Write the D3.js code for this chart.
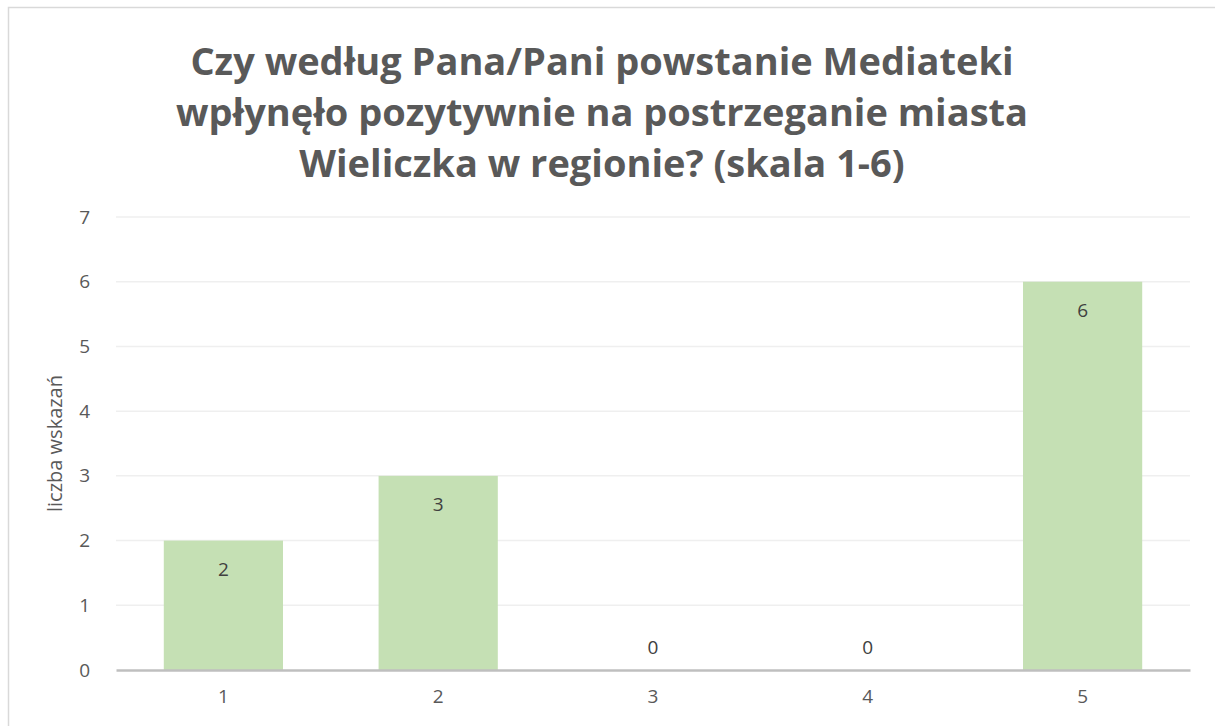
<!DOCTYPE html>
<html>
<head>
<meta charset="utf-8">
<script src="https://cdn.jsdelivr.net/npm/d3@7"></script>
<style>
  body { margin: 0; background: #fff; }
  text { font-family: "Open Sans", "Noto Sans", sans-serif; }
</style>
</head>
<body>
<svg id="chart"></svg>
<script>
const width = 1215;
const height = 726;

// dane z wykresu
const categories = ["1", "2", "3", "4", "5"];
const values = [2, 3, 0, 0, 6];
const yTicks = [0, 1, 2, 3, 4, 5, 6, 7];
const titleLines = [
  "Czy według Pana/Pani powstanie Mediateki",
  "wpłynęło pozytywnie na postrzeganie miasta",
  "Wieliczka w regionie? (skala 1-6)"
];
const yLabel = "liczba wskazań";

const svg = d3.select('#chart')
  .attr('width', width)
  .attr('height', height);

// ramka wykresu
svg.append('rect')
  .attr('x', 8.5)
  .attr('y', 7.5)
  .attr('width', width + 20)
  .attr('height', height + 20)
  .attr('fill', 'white')
  .attr('stroke', '#d9d9d9')
  .attr('stroke-width', 1.5);

const margin = { left: 116, right: 25, top: 217, bottom: 56 };

let x = d3.scaleBand()
  .domain(categories)
  .range([margin.left, width - margin.right])
  .paddingInner(0.445)
  .paddingOuter(0.2225);

let y = d3.scaleLinear()
  .domain([0, 7])
  .range([height - margin.bottom, margin.top]);

// tytuł
svg.append('text')
  .attr('x', 602)
  .attr('y', 75)
  .attr('text-anchor', 'middle')
  .attr('fill', '#595959')
  .attr('font-size', '38px')
  .attr('font-weight', 'bold')
  .selectAll('tspan')
  .data(titleLines).join('tspan')
  .attr('x', 602)
  .attr('dy', (d, i) => i === 0 ? 0 : 51)
  .text(d => d);

// linie siatki
svg.append('g')
  .selectAll('line')
  .data(yTicks.filter(d => d > 0))
  .join('line')
  .attr('x1', margin.left)
  .attr('x2', width - margin.right)
  .attr('y1', d => y(d))
  .attr('y2', d => y(d))
  .attr('stroke', '#efefef')
  .attr('stroke-width', 1.5);

// oś Y
let yAxis = svg.append('g')
  .attr('transform', `translate(${margin.left},0)`)
  .call(d3.axisLeft(y).tickValues(yTicks).tickFormat(d3.format('d')).tickSize(0).tickPadding(26));
yAxis.select('.domain').remove();
yAxis.attr('font-size', 19).attr('font-family', null);
yAxis.selectAll('text')
  .attr('fill', '#595959');

// słupki
svg.selectAll('.bar')
  .data(categories)
  .join('rect')
  .attr('class', 'bar')
  .attr('x', d => x(d))
  .attr('width', x.bandwidth())
  .attr('y', (d, i) => y(values[i]))
  .attr('height', (d, i) => y(0) - y(values[i]))
  .attr('fill', '#c5e0b4');

// oś X
let xAxis = svg.append('g')
  .attr('transform', `translate(0,${y(0)})`)
  .call(d3.axisBottom(x).tickSize(0).tickPadding(20));
xAxis.attr('font-size', 19).attr('font-family', null);
xAxis.select('.domain')
  .attr('stroke', '#bfbfbf')
  .attr('stroke-width', 2.5);
xAxis.selectAll('text')
  .attr('fill', '#595959');

// etykiety wartości
svg.selectAll('.label')
  .data(categories)
  .join('text')
  .attr('class', 'label')
  .attr('x', d => x(d) + x.bandwidth() / 2)
  .attr('y', (d, i) => values[i] > 0 ? y(values[i]) + 35 : y(0) - 16)
  .attr('text-anchor', 'middle')
  .attr('font-size', '19px')
  .attr('fill', '#404040')
  .text((d, i) => values[i]);

// etykieta osi Y
svg.append('text')
  .attr('transform', `translate(62,${(y(0) + y(7)) / 2}) rotate(-90)`)
  .attr('text-anchor', 'middle')
  .attr('font-size', '20px')
  .attr('fill', '#595959')
  .text(yLabel);
</script>
</body>
</html>
